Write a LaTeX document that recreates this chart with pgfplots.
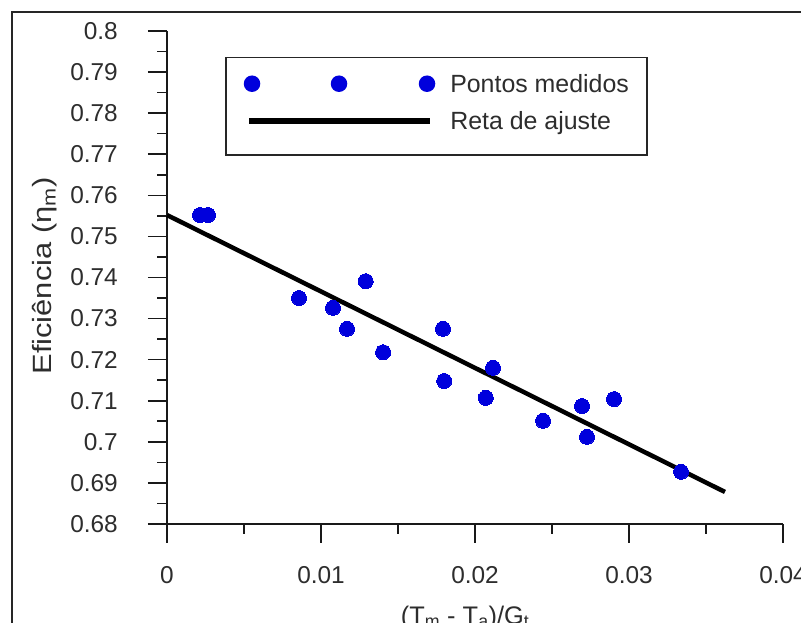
\documentclass[border=0pt]{standalone}
\usepackage{fontspec}
\setmainfont{Liberation Sans}
\usepackage{pgfplots}
\pgfplotsset{compat=1.18}
\definecolor{ptblue}{RGB}{0,0,220}
\definecolor{txt}{RGB}{45,45,45}
\begin{document}
\begin{tikzpicture}[x=1bp,y=1bp]
\useasboundingbox (0,0) rectangle (801,623);
\clip (0,0) rectangle (801,623);
\draw[line width=2bp, black!85] (12,-10) -- (12,611) -- (811,611);
\begin{axis}[
  scale only axis,
  width=616bp, height=493bp,
  at={(167bp,99bp)}, anchor=south west,
  xmin=0, xmax=0.04, ymin=0.68, ymax=0.8,
  axis x line=bottom, axis y line=left,
  axis line style={-, line width=1.6bp, black!90},
  tick style={line width=1.6bp, black!90},
  tick align=outside, xtick align=outside, ytick align=outside,
  major tick length=19bp, minor tick length=10bp,
  scaled ticks=false,
  xtick={0,0.01,0.02,0.03,0.04},
  xticklabels={0,0.01,0.02,0.03,0.04},
  ytick={0.68,0.69,0.70,0.71,0.72,0.73,0.74,0.75,0.76,0.77,0.78,0.79,0.80},
  yticklabels={0.68,0.69,0.7,0.71,0.72,0.73,0.74,0.75,0.76,0.77,0.78,0.79,0.8},
  minor x tick num=1, minor y tick num=1,
  /pgf/number format/assume math mode=true,
  tick label style={font=\fontsize{24.5}{29}\selectfont, text=txt},
  xticklabel style={anchor=center, yshift=-32bp},
  yticklabel style={anchor=east, inner sep=0pt, xshift=-30bp},
  xlabel={(T\textsubscript{m} - T\textsubscript{a})/G\textsubscript{t}},
  ylabel={Eficiência (η\textsubscript{m})},
  xlabel style={font=\fontsize{25.5}{30}\selectfont, text=txt,
    at={(axis description cs:0.484,-0.203)}, anchor=base},
  ylabel style={font=\fontsize{26.5}{30}\selectfont, text=txt,
    at={(axis description cs:-0.1867,0.503)}, anchor=base, rotate=0, xscale=1.17},
  legend style={at={(axis description cs:0.0942,0.9473)}, anchor=north west,
    draw=black!85, line width=1.5bp, inner xsep=18bp, inner ysep=17bp,
    row sep=19bp, column sep=15bp,
    nodes={inner sep=0pt, text height=18bp, text depth=0pt},
    font=\fontsize{25}{30}\selectfont, text=txt},
  legend cell align=left,
  clip=false,
]
\addplot[only marks, mark=*, mark size=7.5bp, mark options={fill=ptblue, draw=ptblue, line width=0pt},
  legend image code/.code={
    \fill[ptblue] (0bp,0bp) circle (7.5bp);
    \fill[ptblue] (87bp,0bp) circle (7.5bp);
    \fill[ptblue] (175bp,0bp) circle (7.5bp);
  }] coordinates {
  (0.00214,0.7552) (0.00266,0.7552)
  (0.00857,0.7350) (0.01290,0.7391) (0.01078,0.7326) (0.01169,0.7275)
  (0.01403,0.7218) (0.01792,0.7275) (0.01800,0.7148) (0.02117,0.7180)
  (0.02070,0.7107) (0.02442,0.7051) (0.02695,0.7087) (0.02903,0.7104)
  (0.02727,0.7012) (0.03338,0.6927)
};
\addlegendentry{Pontos medidos}
\addplot[black, line width=4.5bp,
  legend image code/.code={
    \draw[black, line width=6bp] (-3bp,0bp) -- (178bp,0bp);
    \path (0bp,-15bp);
  }] coordinates {(0,0.7552) (0.03623,0.6878)};
\addlegendentry{Reta de ajuste}
\end{axis}
\end{tikzpicture}
\end{document}
